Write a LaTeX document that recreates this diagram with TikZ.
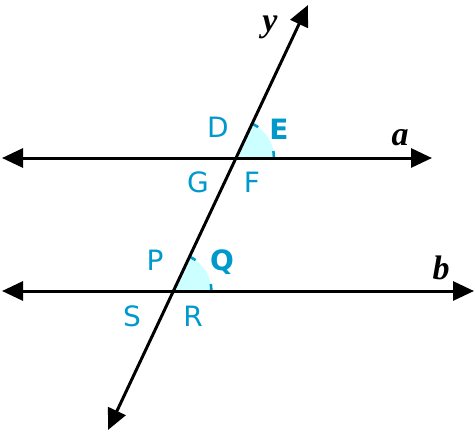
\documentclass[tikz,border=0pt]{standalone}
\usepackage{fontspec}
\setmainfont{DejaVu Sans}
\newfontfamily\handfont{Liberation Serif}
\usetikzlibrary{arrows.meta}
\definecolor{angleblue}{HTML}{0099CC}
\definecolor{anglefill}{HTML}{CCFFFF}

\begin{document}
\begin{tikzpicture}[x=1pt,y=-1pt,
  axis/.style={line width=3pt, {Triangle[length=21pt,width=19pt]}-{Triangle[length=21pt,width=19pt]}},
  ptlabel/.style={text=angleblue, font=\fontsize{28}{30}\selectfont},
  linelabel/.style={font=\handfont\bfseries\itshape\fontsize{34}{34}\selectfont}]
	\useasboundingbox (0,0) rectangle (475,437);
	% end points of the lines
	\coordinate (a1) at (2,158);
	\coordinate (a2) at (432,158);
	\coordinate (b1) at (2,291);
	\coordinate (b2) at (474,291);
	\coordinate (y1) at (108,430);
	\coordinate (y2) at (308,5);
	% crossings
	\coordinate (topcross) at (236,158);
	\coordinate (botcross) at (173.4,291);
	% angles
	\fill[anglefill] (topcross) -- ++(38,0) arc[start angle=0,end angle=-64.8,radius=38] -- cycle;
	\fill[anglefill] (botcross) -- ++(38,0) arc[start angle=0,end angle=-64.8,radius=38] -- cycle;
	\draw[angleblue, line width=2.6pt, dash pattern=on 7pt off 29pt] (topcross) ++(38,0) arc[start angle=0,end angle=-64.8,radius=38];
	\draw[angleblue, line width=2.6pt, dash pattern=on 7pt off 29pt] (botcross) ++(38,0) arc[start angle=0,end angle=-64.8,radius=38];
	% lines
	\draw[axis] (a1) -- (a2);
	\draw[axis] (b1) -- (b2);
	\draw[axis] (y1) -- (y2);
	% labels
	\node[ptlabel] (D) at (218,127) {D};
	\node[ptlabel] (E) at (279,129) {\bfseries E};
	\node[ptlabel] (G) at (198,182) {G};
	\node[ptlabel] (F) at (252,182) {F};
	\node[ptlabel] (P) at (155,260) {P};
	\node[ptlabel] (Q) at (222,262) {\bfseries Q};
	\node[ptlabel] (S) at (132,316) {S};
	\node[ptlabel] (R) at (193,316) {R};
	\node[linelabel] (ylab) at (270,27) {y};
	\node[linelabel] (alab) at (400,138) {a};
	\node[linelabel] (blab) at (441,268) {b};
\end{tikzpicture}
\end{document}
